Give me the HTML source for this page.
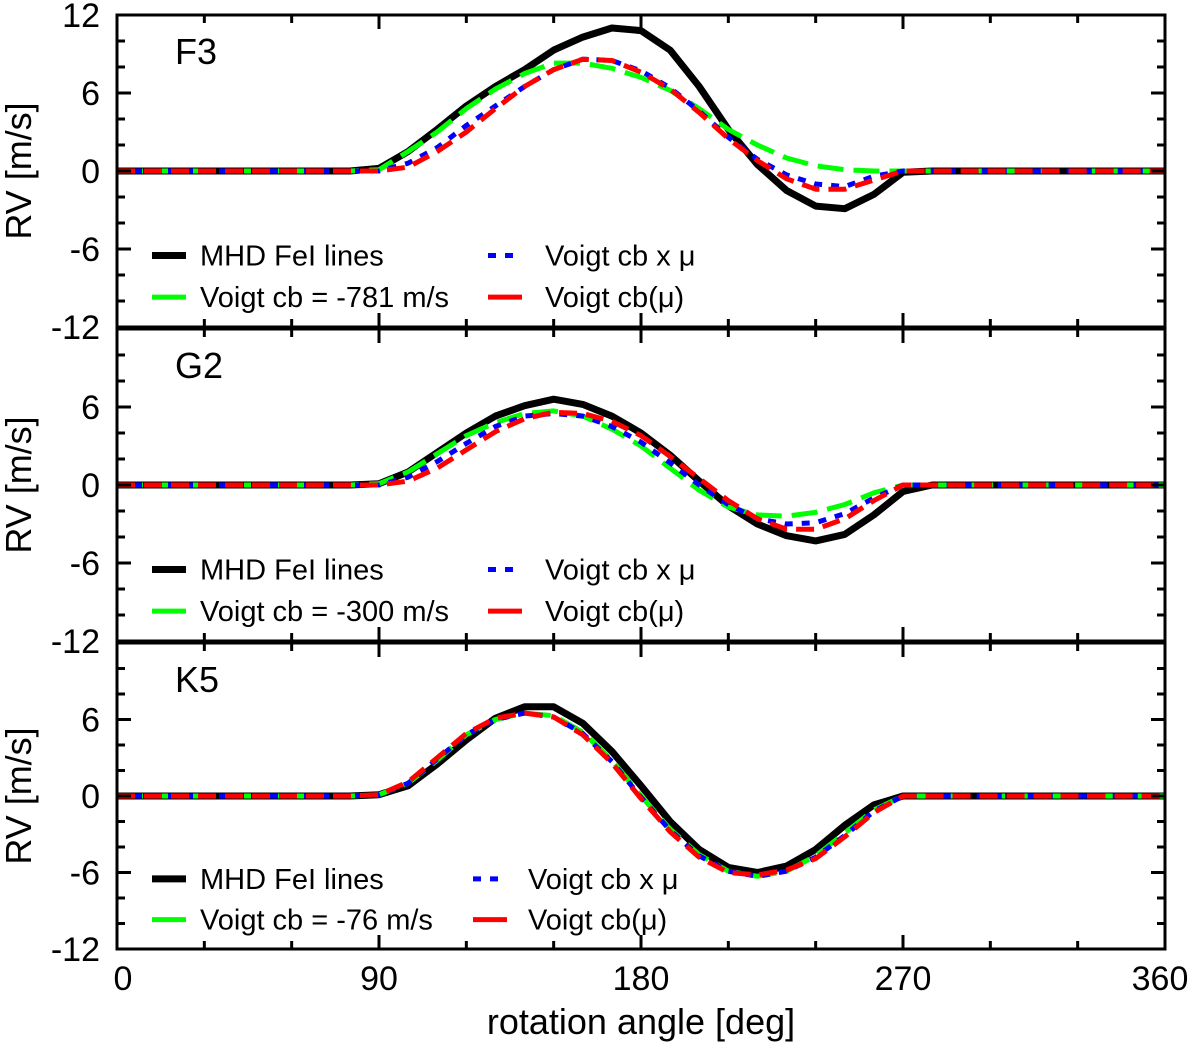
<!DOCTYPE html>
<html><head><meta charset="utf-8"><style>
body{margin:0;background:#fff;}
svg text{font-family:"Liberation Sans",sans-serif;fill:#000;}
</style></head><body>
<svg id="chart" width="1200" height="1042" viewBox="0 0 1200 1042" xmlns="http://www.w3.org/2000/svg"></svg>
<script>
const angles=[80,90,100,110,120,130,140,150,160,170,180,190,200,210,220,230,240,250,260,270,280];
const panelNames=["F3","G2","K5"];
const cbLabels=["Voigt cb = -781 m/s","Voigt cb = -300 m/s","Voigt cb = -76 m/s"];
const f3Mhd=[0,0.2,1.5,3.2,5,6.5,7.8,9.3,10.3,11,10.8,9.3,6.5,3.2,0.5,-1.5,-2.7,-2.9,-1.8,-0.1,0];
const f3Cb=[0,0.1,1.5,3,4.8,6.3,7.5,8.3,8.3,7.9,7.2,6.2,4.8,3.2,2,1,0.4,0.1,0,0,0];
const f3Cbmu=[0,0,0.6,1.8,3.5,5,6.5,7.8,8.6,8.5,7.7,6.4,4.6,2.6,0.9,-0.3,-1,-1.2,-0.4,0,0];
const f3Cbfn=[0,0,0.3,1.5,3,4.8,6.5,7.8,8.6,8.5,7.6,6.3,4.5,2.5,0.8,-0.6,-1.4,-1.4,-0.7,0,0];
const g2Mhd=[0,0.1,1,2.5,4,5.3,6.1,6.6,6.2,5.3,4,2.3,0.3,-1.6,-3,-3.9,-4.3,-3.8,-2.3,-0.5,0];
const g2Cb=[0,0.1,1,2.4,3.8,4.8,5.5,5.7,5.3,4.3,3,1.3,-0.4,-1.7,-2.3,-2.4,-2.1,-1.5,-0.6,0,0];
const g2Cbmu=[0,0,0.6,1.8,3.2,4.5,5.3,5.5,5.3,4.5,3.3,1.7,0,-1.5,-2.6,-3,-2.9,-2.2,-1,0,0];
const g2Cbfn=[0,0,0.3,1.3,2.7,4.1,5.1,5.6,5.5,4.9,3.8,2.2,0.5,-1.2,-2.6,-3.4,-3.4,-2.6,-1.2,0,0];
const k5Mhd=[0,0.1,0.8,2.5,4.4,6.1,7,7,5.7,3.5,0.8,-2,-4.2,-5.6,-6,-5.5,-4.2,-2.3,-0.7,0,0];
const k5Cb=[0,0.1,1,2.8,4.8,6,6.5,6.3,5,2.8,0,-2.6,-4.6,-5.9,-6.3,-5.9,-4.7,-2.9,-1.1,0,0];
const k5Cbmu=[0,0.1,1,2.9,4.8,6,6.5,6.2,4.9,2.7,-0.1,-2.7,-4.7,-5.9,-6.3,-5.9,-4.8,-3.1,-1.2,0,0];
const k5Cbfn=[0,0.1,1.1,3,4.9,6.1,6.5,6.2,4.8,2.6,-0.2,-2.8,-4.8,-6,-6.2,-5.8,-4.9,-3.2,-1.3,0,0];
const xTicks=[0,90,180,270,360];
const yTicks=[-12,-6,0,6,12];
const panelSeries=[[f3Mhd,f3Cb,f3Cbmu,f3Cbfn],[g2Mhd,g2Cb,g2Cbmu,g2Cbfn],[k5Mhd,k5Cb,k5Cbmu,k5Cbfn]];

const NS="http://www.w3.org/2000/svg";
const svg=document.getElementById('chart');
function mk(t,a,p){const e=document.createElementNS(NS,t);for(const k in a)e.setAttribute(k,a[k]);(p||svg).appendChild(e);return e;}
const X0=117,X1=1165;
const xs=v=>X0+(v/360)*(X1-X0);
const panels=[{top:15,bot:327},{top:329,bot:641},{top:643,bot:949}];
const styles=[
 {c:"#000",w:7,d:"none",n:"MHD FeI lines"},
 {c:"#00ff00",w:5,d:"26 10",n:""},
 {c:"#0000ff",w:5,d:"8 9",n:"Voigt cb x μ"},
 {c:"#ff0000",w:5,d:"18 9",n:"Voigt cb(μ)"}];
const legCol2=[[490,545],[490,545],[475,528]];
panels.forEach((P,pi)=>{
 const g=mk('g',{});
 
 
 const ys=v=>P.top+(12-v)/24*(P.bot-P.top);
 [0,1,2,3].forEach(si=>{
  const arr=panelSeries[pi][si];
  let pts=[[0,0],[angles[0],0]];
  angles.forEach((a,i)=>pts.push([a,arr[i]]));
  pts.push([360,0]);
  const d=pts.map((p,i)=>(i?'L':'M')+xs(p[0]).toFixed(1)+' '+ys(p[1]).toFixed(1)).join(' ');
  const s=styles[si];
  const pth=mk('path',{d:d,fill:'none',stroke:s.c,'stroke-width':s.w,'stroke-dasharray':s.d,'stroke-linejoin':'round'},g);
  
  
 });
 for(let v=0;v<=360;v+=30){const maj=v%90==0,L=maj?14:8;
  mk('line',{x1:xs(v),x2:xs(v),y1:P.top,y2:P.top+L,stroke:'#000','stroke-width':3},g);
  mk('line',{x1:xs(v),x2:xs(v),y1:P.bot,y2:P.bot-L,stroke:'#000','stroke-width':3},g);}
 for(let v=-12;v<=12;v+=2){const maj=v%6==0,L=maj?14:8;
  mk('line',{x1:X0,x2:X0+L,y1:ys(v),y2:ys(v),stroke:'#000','stroke-width':3},g);
  mk('line',{x1:X1,x2:X1-L,y1:ys(v),y2:ys(v),stroke:'#000','stroke-width':3},g);}
 yTicks.forEach(v=>{
  if(pi>0&&v==12)return;
  const t=mk('text',{x:100,y:ys(v)+12,'font-size':34,'text-anchor':'end'},g);t.textContent=v;
  
  
 });
 mk('rect',{x:X0,y:P.top,width:X1-X0,height:P.bot-P.top,fill:'none',stroke:'#000','stroke-width':3},g);
 const lab=mk('text',{x:175,y:P.top+49,'font-size':36},g);lab.textContent=panelNames[pi];
 
 
 const yt=mk('text',{x:0,y:0,'font-size':36,'text-anchor':'middle',transform:`translate(31,${ys(0)}) rotate(-90)`},g);yt.textContent='RV [m/s]';
 
 
 const r1=ys(-6.5),r2=ys(-9.7);
 const L=[[152,200,r1,0,styles[0].n],[152,200,r2,1,cbLabels[pi]],[legCol2[pi][0]-2,legCol2[pi][1],r1,2,styles[2].n],[legCol2[pi][0]-2,legCol2[pi][1],r2,3,styles[3].n]];
 L.forEach(l=>{const s=styles[l[3]];
  const lg=mk('g',{},g);
  
  
  mk('line',{x1:l[0],x2:l[0]+34,y1:l[2],y2:l[2],stroke:s.c,'stroke-width':s.w,'stroke-dasharray':l[3]==2?'8 9':'none'},lg);
  const t=mk('text',{x:l[1],y:l[2]+10,'font-size':29},lg);t.textContent=l[4];});
});
xTicks.forEach(v=>{const t=mk('text',{x:xs(v)+(v==0?6:v==360?-5:0),y:990,'font-size':34,'text-anchor':'middle'});t.textContent=v;
 
 });
const xt=mk('text',{x:641,y:1034,'font-size':36,'text-anchor':'middle'});xt.textContent='rotation angle [deg]';


</script>
</body></html>
